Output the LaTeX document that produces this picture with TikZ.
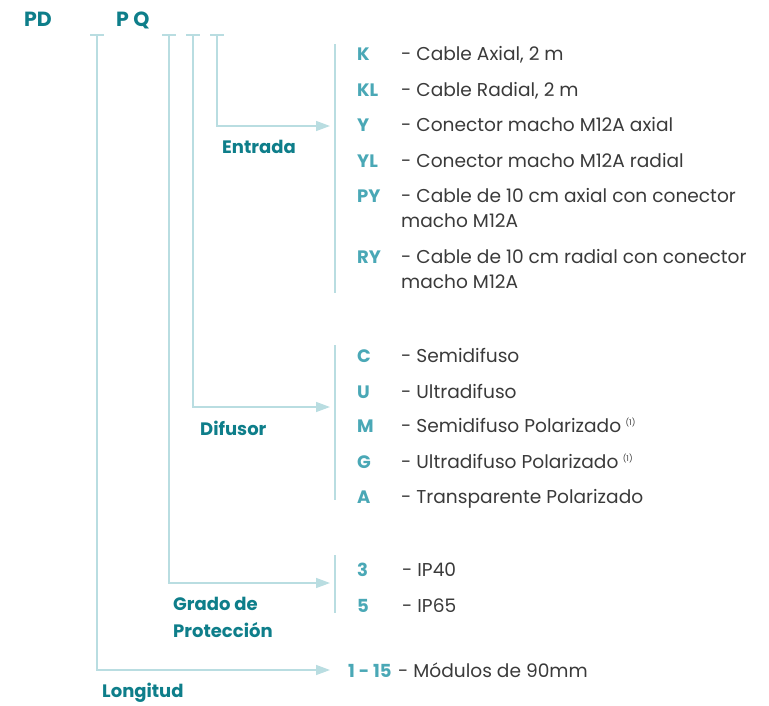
\documentclass[tikz,border=0pt]{standalone}
\usepackage{fontspec}
\setmainfont{Poppins}
\usetikzlibrary{arrows.meta}
\definecolor{labc}{HTML}{0E7E8A}
\definecolor{codec}{HTML}{4AA8B6}
\definecolor{linec}{HTML}{B9DDE1}
\definecolor{txtc}{HTML}{3A3A3A}
\begin{document}
\begin{tikzpicture}[x=1pt,y=-1pt,
  conn/.style={draw=linec, line width=1.4pt, -{Triangle[length=14pt,width=10pt]}},
  bar/.style={draw=linec, line width=1.4pt},
  tickc/.style={draw=linec, line width=1.4pt},
  lbl/.style={text=labc, font=\fontsize{18}{27}\selectfont\bfseries, anchor=base west, inner sep=0pt, align=left},
  head/.style={text=labc, font=\fontsize{20.5}{24}\selectfont\bfseries, anchor=base west, inner sep=0pt},
  codet/.style={text=codec, font=\fontsize{18}{25}\selectfont\bfseries, anchor=base west, inner sep=0pt},
  desc/.style={text=txtc, font=\fontsize{18.6}{25}\selectfont, anchor=base west, inner sep=0pt, align=left},
  supx/.style={text=txtc, font=\fontsize{8}{9}\selectfont, anchor=base west, inner sep=0pt}]
\useasboundingbox (0,0) rectangle (769,705);
% header
\node[head] (pd) at (24,26) {PD};
\node[head] (pq) at (116,26) {P Q};
% ticks
\foreach \n/\x in {tL/97, tG/169, tD/193, tE/217}{
  \coordinate (\n) at (\x,35);
  \draw[tickc] (\x-7,35) -- (\x+7,35);
}
% arrow targets
\coordinate (aE) at (330,126);
\coordinate (aD) at (330,407);
\coordinate (aG) at (330,583);
\coordinate (aL) at (330,670);
\draw[conn] (tE) |- (aE);
\draw[conn] (tD) |- (aD);
\draw[conn] (tG) |- (aG);
\draw[conn] (tL) |- (aL);
% bars
\coordinate (bE1) at (335,44);  \coordinate (bE2) at (335,293);
\coordinate (bD1) at (335,345); \coordinate (bD2) at (335,500);
\coordinate (bG1) at (335,555); \coordinate (bG2) at (335,613);
\draw[bar] (bE1) -- (bE2);
\draw[bar] (bD1) -- (bD2);
\draw[bar] (bG1) -- (bG2);
% labels
\node[lbl] (lE) at (222,153) {Entrada};
\node[lbl] (lD) at (200,435) {Difusor};
\node[lbl] (lG) at (173,637) {Grado de\\Protección};
\node[lbl] (lL) at (102,697) {Longitud};
% Entrada items
\node[codet] (cK)  at (357,60)  {K};   \node[desc] (dK)  at (401,60)  {- Cable Axial, 2 m};
\node[codet] (cKL) at (357,96)  {KL};  \node[desc] (dKL) at (401,96)  {- Cable Radial, 2 m};
\node[codet] (cY)  at (357,131) {Y};   \node[desc] (dY)  at (401,131) {- Conector macho M12A axial};
\node[codet] (cYL) at (357,167) {YL};  \node[desc] (dYL) at (401,167) {- Conector macho M12A radial};
\node[codet] (cPY) at (357,202) {PY};  \node[desc] (dPY) at (401,227) {- Cable de 10 cm axial con conector\\macho M12A};
\node[codet] (cRY) at (357,263) {RY};  \node[desc] (dRY) at (401,288) {- Cable de 10 cm radial con conector\\macho M12A};
% Difusor items
\node[codet] (cC) at (357,362) {C}; \node[desc] (dC) at (401,362) {- Semidifuso};
\node[codet] (cU) at (357,398) {U}; \node[desc] (dU) at (401,398) {- Ultradifuso};
\node[codet] (cM) at (357,432) {M}; \node[desc] (dM) at (401,432) {- Semidifuso Polarizado};
\node[supx] (sM) at ([xshift=4pt,yshift=7pt]dM.base east) {(1)};
\node[codet] (cG) at (357,468) {G}; \node[desc] (dG) at (401,468) {- Ultradifuso Polarizado};
\node[supx] (sG) at ([xshift=4pt,yshift=7pt]dG.base east) {(1)};
\node[codet] (cA) at (357,503) {A}; \node[desc] (dA) at (401,503) {- Transparente Polarizado};
% Grado items
\node[codet] (c3) at (357,576) {3}; \node[desc] (d3) at (402,576) {- IP40};
\node[codet] (c5) at (357,612) {5}; \node[desc] (d5) at (402,612) {- IP65};
% Longitud
\node[codet] (c115) at (348,677) {1 - 15}; \node[desc] (d115) at (398,677) {- Módulos de 90mm};
\end{tikzpicture}
\end{document}
